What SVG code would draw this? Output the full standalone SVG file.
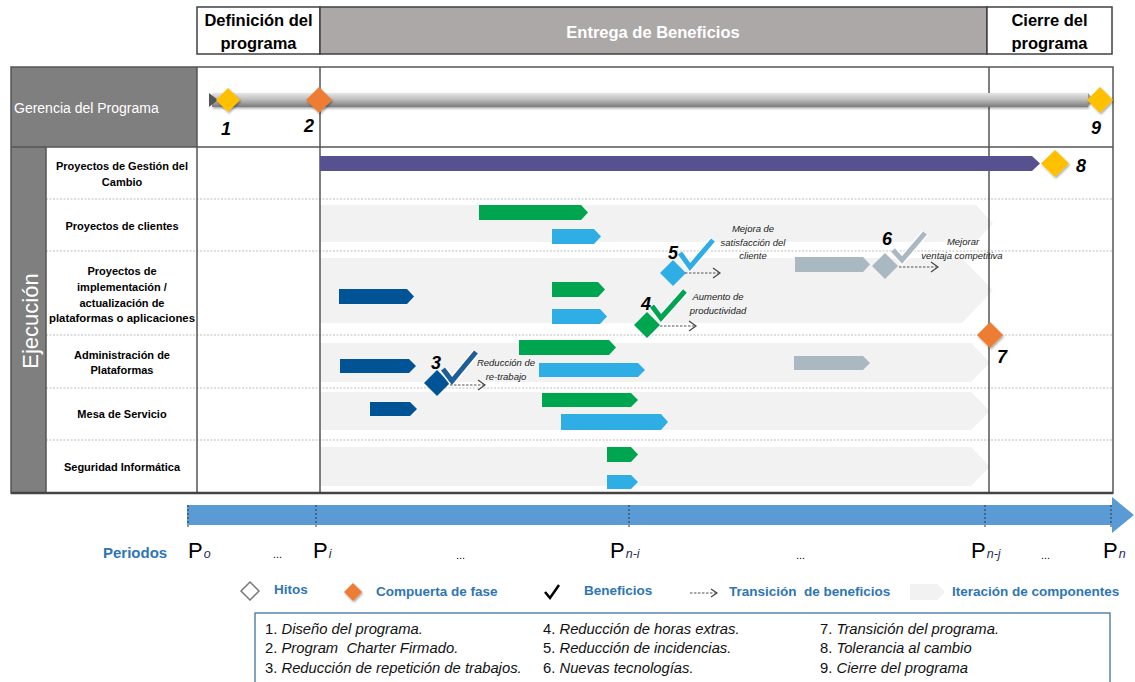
<svg xmlns="http://www.w3.org/2000/svg" width="1135" height="682" viewBox="0 0 1135 682">
  <defs>
    <style>
      text { font-family: "Liberation Sans", Arial, sans-serif; }
      .hdr { font-size: 16.5px; font-weight: bold; fill: #000; text-anchor: middle; }
      .lbl { font-size: 11px; font-weight: bold; fill: #000; text-anchor: middle; }
      .num { font-size: 18px; font-weight: bold; font-style: italic; fill: #000; text-anchor: middle; }
      .ben { font-size: 9.5px; font-style: italic; fill: #222; text-anchor: middle; }
      .grid { stroke: #555; stroke-width: 1.5; fill: none; }
      .sep { stroke: #bdbdbd; stroke-width: 1; stroke-dasharray: 2 1.5; }
      .band { fill: #f2f2f2; }
      .green { fill: #00a54f; }
      .lblue { fill: #2eaee5; }
      .dblue { fill: #005496; }
      .grey { fill: #aab8c2; }
      .tick { stroke: #333; stroke-width: 1; stroke-dasharray: 2 2; }
      .per { font-size: 22px; fill: #000; }
      .sub { font-size: 12.5px; font-style: italic; fill: #1f2d4d; }
      .dots { font-size: 11px; fill: #000; }
      .leg { font-size: 13.5px; font-weight: bold; fill: #2e75b6; }
      .note { font-size: 14.8px; fill: #111; }
      .note tspan.i { font-style: italic; }
      .trans { stroke: #555; stroke-width: 1.2; stroke-dasharray: 2.5 1.5; fill: none; }
      .head { stroke: #444; stroke-width: 1.2; fill: none; }
    </style>
    <linearGradient id="pipe" x1="0" y1="0" x2="0" y2="1">
      <stop offset="0" stop-color="#e6e6e6"/>
      <stop offset="0.45" stop-color="#bfbfbf"/>
      <stop offset="1" stop-color="#7a7a7a"/>
    </linearGradient>
    <filter id="shadow" x="-40%" y="-40%" width="180%" height="180%">
      <feDropShadow dx="1" dy="1.5" stdDeviation="1.2" flood-color="#000" flood-opacity="0.35"/>
    </filter>
  </defs>

  <rect width="1135" height="682" fill="#fff"/>

  <!-- phase header -->
  <g id="phases">
    <rect x="197" y="7" width="123" height="47" fill="#fff" stroke="#404040" stroke-width="1.5"/>
    <rect x="320" y="7" width="667" height="47" fill="#aca8a7" stroke="#404040" stroke-width="1.5"/>
    <rect x="987" y="7" width="125" height="47" fill="#fff" stroke="#404040" stroke-width="1.5"/>
    <text class="hdr" x="258.5" y="26">Definición del</text>
    <text class="hdr" x="258.5" y="49">programa</text>
    <text class="hdr" x="653" y="38" style="fill:#fff">Entrega de Beneficios</text>
    <text class="hdr" x="1049.5" y="26">Cierre del</text>
    <text class="hdr" x="1049.5" y="49">programa</text>
  </g>

  <!-- row headers -->
  <g id="lane-gerencia">
    <rect x="11" y="67" width="186" height="80" fill="#7f7f7f"/>
    <text x="14" y="113" font-size="14" fill="#fff">Gerencia del Programa</text>
  </g>
  <g id="lane-ejecucion">
    <rect x="11" y="147" width="35" height="346" fill="#7f7f7f"/>
    <text x="0" y="0" transform="translate(38 321) rotate(-90)" font-size="22" fill="#fff" text-anchor="middle">Ejecución</text>
  </g>

  <!-- iteration bands -->
  <g id="iterations">
    <polygon class="band" points="320,205 976,205 993,223.5 976,242 320,242"/>
    <polygon class="band" points="320,258 962,258 993,290.5 962,323 320,323"/>
    <polygon class="band" points="320,343 971,343 990,362.5 971,382 320,382"/>
    <polygon class="band" points="320,392 971,392 990,411 971,430 320,430"/>
    <polygon class="band" points="320,447 971,447 990,466.5 971,486 320,486"/>
  </g>

  <!-- grid -->
  <g id="grid">
    <line class="sep" x1="46" y1="199" x2="1113" y2="199"/>
    <line class="sep" x1="46" y1="251" x2="1113" y2="251"/>
    <line class="sep" x1="46" y1="335" x2="1113" y2="335"/>
    <line class="sep" x1="46" y1="388" x2="1113" y2="388"/>
    <line class="sep" x1="46" y1="440" x2="1113" y2="440"/>
    <rect class="grid" x="11" y="67" width="1102" height="426"/>
    <line class="grid" x1="11" y1="147" x2="1113" y2="147"/>
    <line class="grid" x1="46" y1="147" x2="46" y2="493"/>
    <line class="grid" x1="197" y1="67" x2="197" y2="493"/>
    <line class="grid" x1="320" y1="67" x2="320" y2="493"/>
    <line class="grid" x1="989" y1="67" x2="989" y2="493"/>
    <line x1="11" y1="493" x2="1113" y2="493" stroke="#444" stroke-width="2.5"/>
  </g>

  <!-- row labels -->
  <g id="row-labels">
    <text class="lbl" x="122" y="170">Proyectos de Gestión del</text>
    <text class="lbl" x="122" y="186">Cambio</text>
    <text class="lbl" x="122" y="230">Proyectos de clientes</text>
    <text class="lbl" x="122" y="275">Proyectos de</text>
    <text class="lbl" x="122" y="291">implementación /</text>
    <text class="lbl" x="122" y="307">actualización de</text>
    <text class="lbl" x="122" y="322" textLength="146" lengthAdjust="spacingAndGlyphs">plataformas o aplicaciones</text>
    <text class="lbl" x="122" y="359">Administración de</text>
    <text class="lbl" x="122" y="374">Plataformas</text>
    <text class="lbl" x="122" y="418">Mesa de Servicio</text>
    <text class="lbl" x="122" y="471">Seguridad Informática</text>
  </g>

  <!-- program management track -->
  <g id="program-track">
    <rect x="212" y="93" width="876" height="14" fill="url(#pipe)" filter="url(#shadow)"/>
    <polygon points="209,93 218,100 209,107" fill="#555"/>
    <polygon points="1088,93 1094,100 1088,107" fill="#9a9a9a"/>
  </g>

  <!-- activity bars -->
  <g id="bars">
    <polygon points="320,156 1032,156 1040,163.5 1032,171 320,171" fill="#58518f"/>
    <polygon class="green" points="479,205 581,205 588,212.5 581,220 479,220"/>
    <polygon class="lblue" points="552,229 594,229 601,236.5 594,244 552,244"/>
    <polygon class="dblue" points="339,289 407,289 414,296.5 407,304 339,304"/>
    <polygon class="green" points="552,282 598,282 605,289.5 598,297 552,297"/>
    <polygon class="lblue" points="552,309 600,309 607,316.5 600,324 552,324"/>
    <polygon class="grey" points="795,257 863,257 870,264.5 863,272 795,272"/>
    <polygon class="green" points="519,340 609,340 616,347.5 609,355 519,355"/>
    <polygon class="dblue" points="340,359 409,359 416,366 409,373 340,373"/>
    <polygon class="lblue" points="539,363 638,363 645,370 638,377 539,377"/>
    <polygon class="grey" points="794,356 863,356 870,363 863,370 794,370"/>
    <polygon class="dblue" points="370,402 410,402 417,409 410,416 370,416"/>
    <polygon class="green" points="542,393 631,393 638,400 631,407 542,407"/>
    <polygon class="lblue" points="561,414 661,414 668,422 661,430 561,430"/>
    <polygon class="green" points="607,447 631,447 638,454.5 631,462 607,462"/>
    <polygon class="lblue" points="607,475 631,475 638,482 631,489 607,489"/>
  </g>

  <!-- milestones and phase gates -->
  <g id="m1">
    <polygon points="228,88 240,100 228,112 216,100" fill="#ffc000" filter="url(#shadow)"/>
    <text class="num" x="226" y="135">1</text>
  </g>
  <g id="m2">
    <polygon points="319,87 332,100 319,113 306,100" fill="#ed7d31" filter="url(#shadow)"/>
    <text class="num" x="309" y="132">2</text>
  </g>
  <g id="m9">
    <polygon points="1100,87 1113,100 1100,113 1087,100" fill="#ffc000" filter="url(#shadow)"/>
    <text class="num" x="1096" y="134">9</text>
  </g>
  <g id="m8">
    <polygon points="1055,150 1069,163.5 1055,177 1041,163.5" fill="#ffc000" filter="url(#shadow)"/>
    <text class="num" x="1081" y="172">8</text>
  </g>
  <g id="m7">
    <polygon points="990,322 1003,335 990,348 977,335" fill="#ed7d31" filter="url(#shadow)"/>
    <text class="num" x="1002" y="363">7</text>
  </g>

  <!-- benefits -->
  <g id="b3">
    <polygon points="437,370 450,383 437,396 424,383" fill="#005496"/>
    <polyline points="443,369 452,381 476,352" fill="none" stroke="#fff" stroke-width="8"/>
    <polyline points="443,369 452,381 476,352" fill="none" stroke="#1f5f99" stroke-width="5"/>
    <text class="num" x="436" y="369">3</text>
    <text class="ben" x="506" y="366">Reducción de</text>
    <text class="ben" x="506" y="380">re-trabajo</text>
  </g>
  <g id="b4">
    <polygon points="647,312 660,325 647,338 634,325" fill="#00a54f"/>
    <polyline points="652,306 661,318 685,291" fill="none" stroke="#fff" stroke-width="8"/>
    <polyline points="652,306 661,318 685,291" fill="none" stroke="#00a54f" stroke-width="5"/>
    <text class="num" x="646" y="310">4</text>
    <text class="ben" x="718" y="300">Aumento de</text>
    <text class="ben" x="718" y="314">productividad</text>
  </g>
  <g id="b5">
    <polygon points="673,260 686,273 673,286 660,273" fill="#2eaee5"/>
    <polyline points="680,253 690,267 713,240" fill="none" stroke="#fff" stroke-width="8"/>
    <polyline points="680,253 690,267 713,240" fill="none" stroke="#2eaee5" stroke-width="5"/>
    <text class="num" x="673" y="259">5</text>
    <text class="ben" x="753" y="232">Mejora de</text>
    <text class="ben" x="753" y="246">satisfacción del</text>
    <text class="ben" x="753" y="259">cliente</text>
  </g>
  <g id="b6">
    <polygon points="885,253 898,266 885,279 872,266" fill="#aab8c2"/>
    <polyline points="893,250 902,260 925,233" fill="none" stroke="#fff" stroke-width="8"/>
    <polyline points="893,250 902,260 925,233" fill="none" stroke="#aab8c2" stroke-width="5"/>
    <text class="num" x="887" y="245">6</text>
    <text class="ben" x="963" y="245">Mejorar</text>
    <text class="ben" x="962" y="259">ventaja competitiva</text>
  </g>

  <!-- benefit transitions -->
  <g id="connectors">
    <line class="trans" x1="450" y1="385" x2="484" y2="385"/>
    <polyline class="head" points="478,380 485,385 478,390"/>
    <line class="trans" x1="660" y1="326" x2="695" y2="326"/>
    <polyline class="head" points="689,321 696,326 689,331"/>
    <line class="trans" x1="685" y1="273" x2="719" y2="273"/>
    <polyline class="head" points="713,268 720,273 713,278"/>
    <line class="trans" x1="899" y1="267" x2="937" y2="267"/>
    <polyline class="head" points="931,262 938,267 931,272"/>
  </g>

  <!-- period axis -->
  <g id="timeline">
    <polygon points="187,505 1112,505 1112,497 1134,515 1112,533 1112,525 187,525" fill="#5b9bd5"/>
    <line class="tick" x1="188" y1="505" x2="188" y2="527"/>
    <line class="tick" x1="316" y1="505" x2="316" y2="527"/>
    <line class="tick" x1="629" y1="505" x2="629" y2="527"/>
    <line class="tick" x1="985" y1="505" x2="985" y2="527"/>
    <line class="tick" x1="1111" y1="505" x2="1111" y2="527"/>
    <text x="103" y="558" font-size="15" font-weight="bold" fill="#2e75b6">Periodos</text>
    <text class="per" x="188" y="558">P<tspan class="sub" dx="1">o</tspan></text>
    <text class="dots" x="273" y="558">...</text>
    <text class="per" x="313" y="558">P<tspan class="sub" dx="1">i</tspan></text>
    <text class="dots" x="456" y="559">...</text>
    <text class="per" x="610" y="558">P<tspan class="sub" dx="1">n-i</tspan></text>
    <text class="dots" x="796" y="559">...</text>
    <text class="per" x="971" y="558">P<tspan class="sub" dx="1">n-j</tspan></text>
    <text class="dots" x="1041" y="559">...</text>
    <text class="per" x="1103" y="558">P<tspan class="sub" dx="1">n</tspan></text>
  </g>

  <!-- key -->
  <g id="legend">
    <polygon points="250,582 259,591 250,600 241,591" fill="#fff" stroke="#777" stroke-width="1.5"/>
    <text class="leg" x="274" y="594">Hitos</text>
    <polygon points="353,583 362,592 353,601 344,592" fill="#ed7d31" filter="url(#shadow)"/>
    <text class="leg" x="376" y="596">Compuerta de fase</text>
    <polyline points="545,592 550,598 559,585" fill="none" stroke="#000" stroke-width="2.5"/>
    <text class="leg" x="584" y="595">Beneficios</text>
    <line class="trans" x1="690" y1="593" x2="716" y2="593"/>
    <polyline class="head" points="711,589 717,593 711,597"/>
    <text class="leg" x="729" y="596">Transición&#160; de beneficios</text>
    <polygon class="band" points="910,584 937,584 945,592 937,600 910,600"/>
    <text class="leg" x="952" y="596">Iteración de componentes</text>
  </g>

  <g id="notes">
    <rect x="255" y="613" width="855" height="75" fill="#fff" stroke="#41719c" stroke-width="1.3"/>
    <text class="note" x="265" y="634">1. <tspan class="i">Diseño del programa.</tspan></text>
    <text class="note" x="265" y="653">2. <tspan class="i">Program&#160; Charter Firmado.</tspan></text>
    <text class="note" x="265" y="673">3. <tspan class="i">Reducción de repetición de trabajos.</tspan></text>
    <text class="note" x="543" y="634">4. <tspan class="i">Reducción de horas extras.</tspan></text>
    <text class="note" x="543" y="653">5. <tspan class="i">Reducción de incidencias.</tspan></text>
    <text class="note" x="543" y="673">6. <tspan class="i">Nuevas tecnologías.</tspan></text>
    <text class="note" x="820" y="634">7. <tspan class="i">Transición del programa.</tspan></text>
    <text class="note" x="820" y="653">8. <tspan class="i">Tolerancia al cambio</tspan></text>
    <text class="note" x="820" y="673">9. <tspan class="i">Cierre del programa</tspan></text>
  </g>
</svg>
